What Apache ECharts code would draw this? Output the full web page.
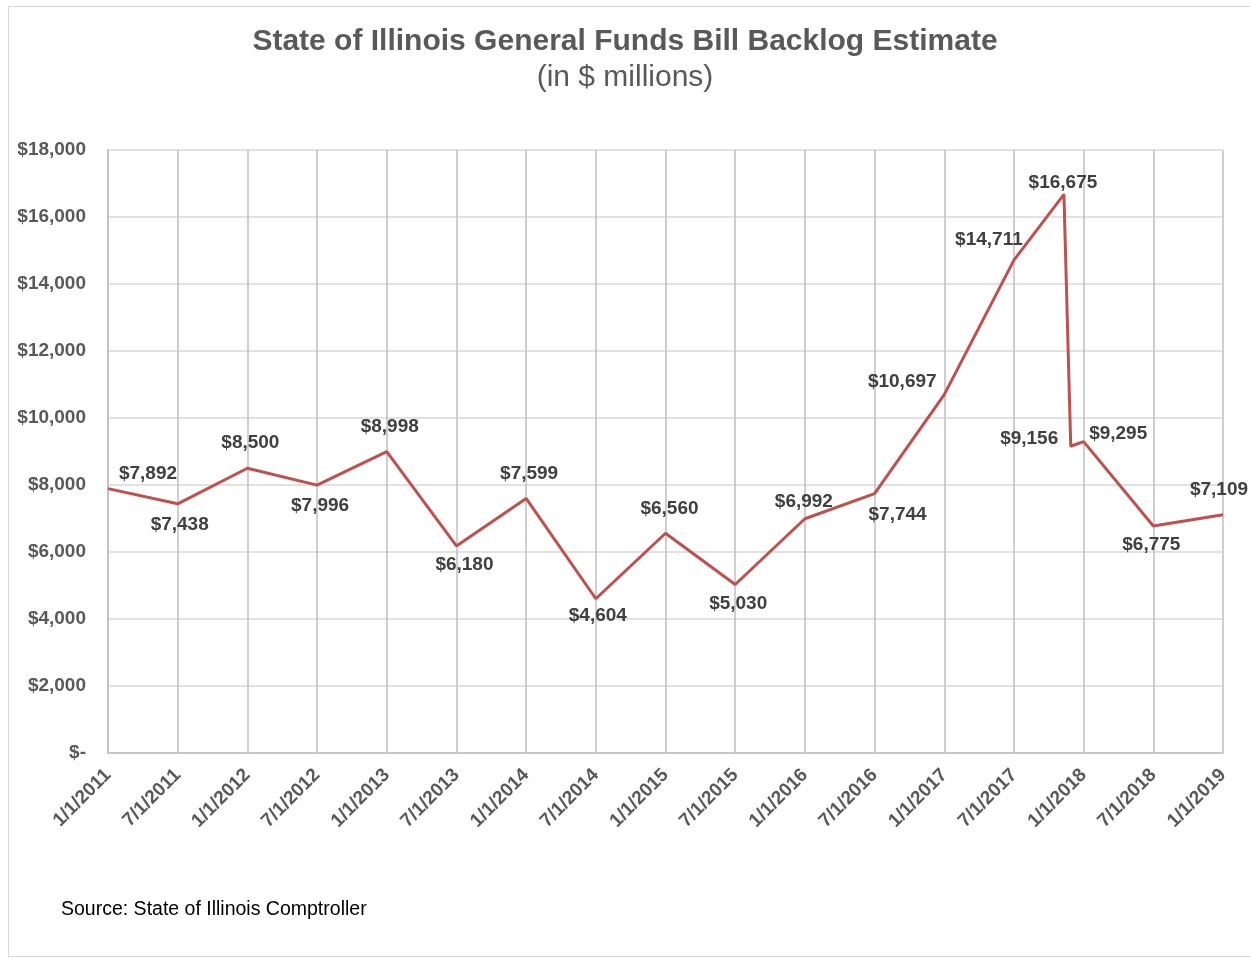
<!DOCTYPE html>
<html>
<head>
<meta charset="utf-8">
<script src="https://cdn.jsdelivr.net/npm/echarts@6/dist/echarts.min.js"></script>
<style>
html,body{margin:0;padding:0;background:#fff;overflow:hidden;width:1250px;height:961px;}
#frame{position:absolute;left:8px;top:6px;width:1242px;height:951px;border:1.5px solid #d9d9d9;border-right:none;box-sizing:border-box;}
#chart{position:absolute;left:0;top:0;width:1250px;height:961px;}
</style>
</head>
<body>
<div id="frame"></div>
<div id="chart"></div>
<script>
// Tick labels (half-year steps)
const tickLabels = ['1/1/2011','7/1/2011','1/1/2012','7/1/2012','1/1/2013','7/1/2013','1/1/2014','7/1/2014','1/1/2015','7/1/2015','1/1/2016','7/1/2016','1/1/2017','7/1/2017','1/1/2018','7/1/2018','1/1/2019'];
// Observation dates and backlog values ($ millions)
const dates = ['2011-01-01','2011-07-01','2012-01-01','2012-07-01','2013-01-01','2013-07-01','2014-01-01','2014-07-01','2015-01-01','2015-07-01','2016-01-01','2016-07-01','2017-01-01','2017-07-01','2017-11-10','2017-11-28','2018-01-01','2018-07-01','2019-01-01'];
const values = [7892,7438,8500,7996,8998,6180,7599,4604,6560,5030,6992,7744,10697,14711,16675,9156,9295,6775,7109];

// Convert a date to position in half-year units from 1/1/2011
function halfYearPos(s){
  const d = new Date(s+'T00:00:00Z');
  const y = d.getUTCFullYear();
  const h = d.getUTCMonth() < 6 ? 0 : 1;
  const start = Date.UTC(y, h*6, 1);
  const end = h===0 ? Date.UTC(y,6,1) : Date.UTC(y+1,0,1);
  return (y-2011)*2 + h + (d.getTime()-start)/(end-start);
}

// label placement per point (style, not data): side and pixel nudge
const labelSide = ['top','bottom','top','bottom','top','bottom','top','bottom','top','bottom','top','bottom','top','top','top','left','right','bottom','top'];
const labelNudge = [[40,3],[2,3],[3,-7],[3,3],[3,-7],[8,1],[3,-7],[2,-1],[4,-6],[3,1],[-1,1],[23,3],[-42,5],[-25,-2],[-1,6],[-4,-8],[-3,-8],[-2,1],[-4,-7]];

function fmt(v){ return v===0 ? '$-' : '$' + v.toLocaleString('en-US'); }

const seriesData = dates.map((d,i)=>({
  value:[halfYearPos(d), values[i]],
  label:{position:labelSide[i]}
}));

const FONT = 'Liberation Sans, Arial, sans-serif';
const chart = echarts.init(document.getElementById('chart'));
chart.setOption({
  backgroundColor:'transparent',
  animation:false,
  title:[
    {text:'State of Illinois General Funds Bill Backlog Estimate', left:'center', top:22,
     textStyle:{fontFamily:FONT, fontSize:30, fontWeight:'bold', color:'#595959'}},
    {text:'(in $ millions)', left:'center', top:58,
     textStyle:{fontFamily:FONT, fontSize:30, fontWeight:'normal', color:'#595959'}},
    {text:'Source: State of Illinois Comptroller', left:56, top:895,
     textStyle:{fontFamily:FONT, fontSize:19.5, fontWeight:'normal', color:'#000'}}
  ],
  grid:{left:108, right:27, top:150, bottom:208, containLabel:false},
  xAxis:{
    type:'value', min:0, max:tickLabels.length-1, interval:1,
    axisLine:{show:true, lineStyle:{color:'#bfbfbf', width:1.5}},
    axisTick:{show:false},
    splitLine:{show:true, lineStyle:{color:'#bfbfbf', width:1.5}},
    axisLabel:{rotate:45, margin:19, fontFamily:FONT, fontSize:19, fontWeight:'bold', color:'#595959',
      formatter:(v)=>tickLabels[Math.round(v)] || ''}
  },
  yAxis:{
    type:'value', min:0, max:18000, interval:2000,
    axisLine:{show:true, lineStyle:{color:'#bfbfbf', width:1.5}},
    axisTick:{show:false},
    splitLine:{show:true, lineStyle:{color:'#d9d9d9', width:1.5}},
    axisLabel:{margin:22, fontFamily:FONT, fontSize:19, fontWeight:'bold', color:'#595959',
      formatter:(v)=>fmt(v)}
  },
  series:[{
    type:'line',
    data:seriesData,
    symbol:'circle',
    symbolSize:1,
    showSymbol:true,
    itemStyle:{color:'rgba(0,0,0,0)'},
    lineStyle:{color:'#c0504d', width:3},
    labelLayout:function(p){
      const n = labelNudge[p.dataIndex] || [0,0];
      return {dx:n[0], dy:n[1], hideOverlap:false};
    },
    label:{show:true, distance:8, fontFamily:FONT, fontSize:19, fontWeight:'bold', color:'#404040',
      formatter:(p)=>fmt(p.value[1])}
  }]
});
</script>
</body>
</html>
